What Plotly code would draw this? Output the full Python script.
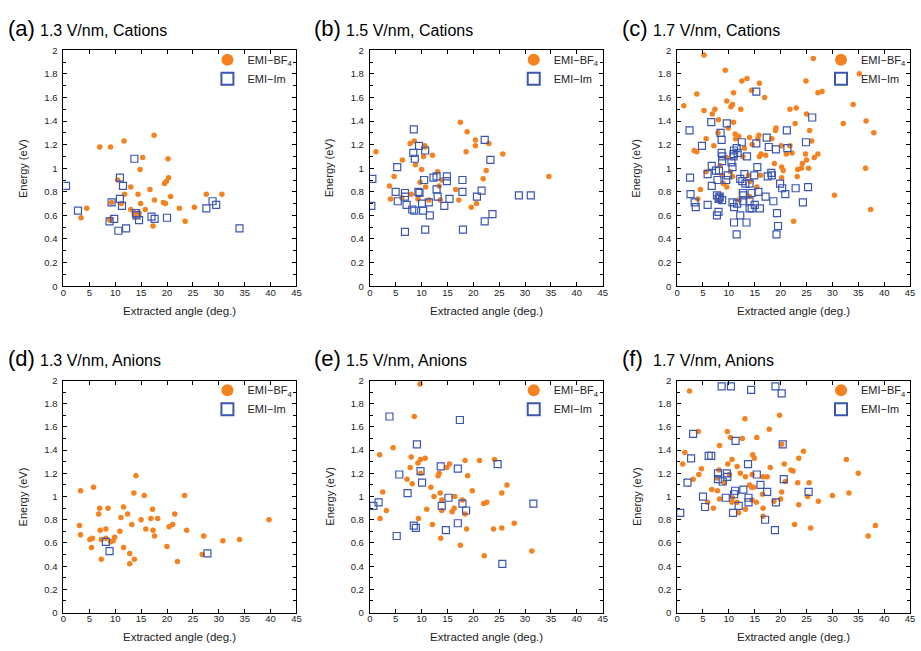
import plotly.graph_objects as go

# ---------------- data: extracted angle (deg.) and energy (eV) ----------------
# 1.3 V/nm, cations
c13_bf4_angle = [7.0, 9.1, 11.7, 17.5, 15.3, 20.2, 14.8, 20.3, 19.9, 19.5, 10.5, 13.0, 16.7, 11.8,
                 14.4, 20.7, 27.6, 30.6, 17.6, 9.3, 11.2, 14.9, 19.3, 19.7, 4.5, 13.0, 15.8, 22.4,
                 25.3, 3.4, 9.1, 8.9, 13.7, 14.2, 14.5, 13.9, 14.6, 17.3, 23.5]
c13_bf4_energy = [1.18, 1.18, 1.23, 1.28, 1.09, 1.08, 0.99, 0.92, 0.89, 0.87, 0.90, 0.84, 0.82, 0.78,
                  0.78, 0.76, 0.78, 0.78, 0.73, 0.71, 0.70, 0.70, 0.71, 0.70, 0.66, 0.65, 0.65, 0.66,
                  0.67, 0.58, 0.57, 0.56, 0.62, 0.60, 0.60, 0.59, 0.62, 0.51, 0.55]
c13_im_angle = [0.5, 2.8, 13.7, 10.9, 11.5, 10.9, 9.3, 11.3, 14.0, 14.1, 9.8, 8.9, 14.6, 17.0,
                17.6, 20.0, 10.6, 12.1, 27.6, 28.8, 29.5, 34.0]
c13_im_energy = [0.85, 0.64, 1.08, 0.92, 0.85, 0.74, 0.71, 0.68, 0.62, 0.60, 0.57, 0.55, 0.56, 0.59,
                 0.57, 0.58, 0.47, 0.49, 0.66, 0.72, 0.69, 0.49]

# 1.5 V/nm, cations
c15_bf4_angle = [1.2, 17.5, 18.8, 8.6, 7.8, 10.6, 20.4, 20.4, 23.0, 10.7, 10.4, 12.1, 6.3, 18.6,
                 25.7, 8.8, 10.0, 13.1, 22.5, 4.7, 21.9, 34.6, 13.9, 9.7, 13.4, 3.8, 10.8, 16.6,
                 8.0, 6.2, 9.3, 4.0, 11.4, 13.6, 17.2, 20.6, 19.6]
c15_bf4_energy = [1.14, 1.39, 1.31, 1.23, 1.21, 1.19, 1.24, 1.19, 1.21, 1.18, 1.10, 1.11, 1.07, 1.14,
                  1.12, 1.03, 0.99, 0.97, 0.98, 0.93, 0.91, 0.93, 0.90, 0.88, 0.85, 0.85, 0.84, 0.82,
                  0.78, 0.75, 0.74, 0.74, 0.73, 0.73, 0.73, 0.70, 0.67]
c15_im_angle = [8.5, 9.5, 10.7, 22.2, 8.7, 5.3, 23.3, 0.5, 8.4, 12.3, 12.9, 10.5, 14.9, 14.9,
                17.9, 12.9, 21.6, 5.0, 6.8, 9.4, 9.6, 17.9, 6.8, 13.1, 20.7, 28.8, 31.1, 5.4,
                11.4, 15.4, 10.1, 7.1, 0.3, 14.4, 8.2, 8.6, 10.3, 11.6, 23.7, 22.2, 6.8, 10.7, 18.0]
c15_im_energy = [1.33, 1.19, 1.15, 1.24, 1.08, 1.01, 1.07, 0.91, 1.13, 0.92, 0.93, 0.90, 0.93, 0.89,
                 0.90, 0.82, 0.81, 0.80, 0.79, 0.80, 0.79, 0.80, 0.76, 0.76, 0.76, 0.77, 0.77, 0.72,
                 0.71, 0.74, 0.70, 0.69, 0.68, 0.68, 0.65, 0.64, 0.64, 0.60, 0.61, 0.55, 0.46, 0.48, 0.48]

# 1.7 V/nm, cations
c17_bf4_angle = [5.2, 26.3, 9.3, 35.2, 12.5, 13.5, 24.9, 15.9, 14.4, 3.8, 10.9, 16.9, 27.2, 28.0,
                 1.3, 9.6, 10.7, 10.4, 5.2, 7.3, 12.3, 21.8, 23.0, 25.0, 34.0, 6.8, 36.5, 32.1,
                 22.8, 8.0, 10.9, 9.9, 19.1, 19.0, 25.6, 38.0, 7.9, 11.2, 11.9, 14.0, 15.8, 5.6,
                 15.6, 11.3, 18.3, 26.0, 21.8, 7.1, 13.0, 14.5, 20.1, 3.3, 3.8, 17.1, 15.9, 16.2,
                 21.1, 22.2, 24.8, 27.2, 26.5, 12.7, 9.5, 18.8, 25.0, 8.3, 20.2, 20.5, 23.3, 24.0,
                 24.2, 25.4, 36.4, 5.6, 13.8, 16.1, 8.7, 10.3, 10.7, 20.2, 23.2, 14.1, 8.9, 9.6,
                 15.4, 4.5, 4.0, 14.0, 30.4, 8.0, 11.9, 22.5, 37.4]
c17_bf4_energy = [1.96, 1.93, 1.83, 1.80, 1.74, 1.76, 1.74, 1.72, 1.66, 1.63, 1.64, 1.60, 1.64, 1.65,
                  1.53, 1.57, 1.54, 1.52, 1.49, 1.50, 1.50, 1.50, 1.51, 1.46, 1.54, 1.46, 1.40, 1.38,
                  1.38, 1.41, 1.39, 1.34, 1.34, 1.32, 1.32, 1.30, 1.30, 1.29, 1.27, 1.26, 1.28, 1.25,
                  1.25, 1.25, 1.25, 1.23, 1.19, 1.19, 1.17, 1.20, 1.19, 1.15, 1.14, 1.11, 1.10, 1.12,
                  1.12, 1.13, 1.12, 1.12, 1.09, 1.10, 1.09, 1.04, 1.07, 1.02, 1.01, 0.98, 0.99, 1.00,
                  1.04, 1.00, 1.00, 0.97, 0.94, 0.94, 0.94, 0.97, 0.93, 0.92, 0.93, 0.89, 0.87, 0.84,
                  0.84, 0.82, 0.74, 0.76, 0.77, 0.73, 0.73, 0.55, 0.65]
c17_im_angle = [15.3, 26.1, 6.6, 9.6, 2.4, 21.2, 8.4, 17.3, 8.6, 4.8, 12.5, 15.3, 24.9, 17.7,
                11.5, 11.0, 19.1, 21.3, 8.6, 10.9, 11.7, 10.9, 13.5, 8.7, 8.7, 10.5, 10.7, 6.7,
                7.5, 8.1, 5.9, 15.5, 9.8, 14.9, 17.5, 18.2, 18.3, 2.5, 9.5, 7.8, 12.2, 12.6,
                13.2, 14.0, 13.0, 19.9, 20.3, 22.9, 25.3, 6.7, 2.6, 15.7, 14.4, 12.7, 12.8, 20.9,
                17.1, 7.7, 8.2, 8.0, 8.7, 8.2, 3.4, 3.6, 5.9, 10.7, 12.8, 14.0, 18.6, 11.0,
                11.6, 15.0, 14.0, 14.4, 16.0, 24.3, 8.0, 7.7, 12.2, 19.3, 11.0, 13.4, 19.5, 11.5,
                19.2]
c17_im_energy = [1.65, 1.43, 1.39, 1.38, 1.32, 1.32, 1.30, 1.26, 1.24, 1.19, 1.22, 1.21, 1.22, 1.18,
                 1.17, 1.15, 1.16, 1.17, 1.13, 1.12, 1.13, 1.10, 1.10, 1.10, 1.06, 1.05, 1.01, 1.02,
                 0.98, 0.98, 0.95, 1.01, 0.94, 0.94, 0.93, 0.96, 0.94, 0.92, 0.90, 0.90, 0.91, 0.89,
                 0.87, 0.87, 0.95, 0.87, 0.83, 0.83, 0.84, 0.85, 0.78, 0.80, 0.79, 0.79, 0.77, 0.78,
                 0.76, 0.77, 0.76, 0.74, 0.73, 0.75, 0.71, 0.67, 0.69, 0.71, 0.72, 0.72, 0.72, 0.67,
                 0.70, 0.69, 0.66, 0.66, 0.66, 0.71, 0.63, 0.60, 0.60, 0.62, 0.54, 0.54, 0.51, 0.44,
                 0.44]

# 1.3 V/nm, anions
a13_bf4_angle = [3.3, 5.8, 14.0, 13.6, 15.6, 23.4, 7.0, 8.6, 11.6, 17.2, 6.8, 12.4, 21.5, 11.1,
                 15.0, 16.9, 18.2, 39.7, 13.2, 21.1, 20.4, 3.1, 8.2, 15.9, 17.3, 7.1, 10.9, 23.8,
                 3.3, 17.6, 27.1, 7.3, 8.2, 9.9, 5.1, 5.6, 30.8, 34.0, 9.1, 9.6, 20.0, 5.4,
                 11.6, 12.8, 26.8, 7.3, 13.7, 12.8, 22.0]
a13_bf4_energy = [1.05, 1.08, 1.18, 1.03, 1.01, 1.01, 0.90, 0.90, 0.91, 0.89, 0.85, 0.85, 0.85, 0.82,
                  0.80, 0.81, 0.81, 0.80, 0.76, 0.76, 0.74, 0.75, 0.72, 0.72, 0.71, 0.71, 0.70, 0.71,
                  0.67, 0.66, 0.66, 0.63, 0.64, 0.65, 0.63, 0.64, 0.62, 0.63, 0.61, 0.62, 0.57, 0.56,
                  0.56, 0.51, 0.50, 0.46, 0.46, 0.42, 0.44]
a13_im_angle = [8.2, 8.9, 27.8]
a13_im_energy = [0.61, 0.53, 0.51]

# 1.5 V/nm, anions
a15_bf4_angle = [9.7, 8.6, 4.5, 1.9, 8.0, 9.8, 10.7, 9.3, 18.4, 21.2, 24.1, 15.4, 7.8, 14.9,
                 13.4, 13.2, 9.8, 18.9, 7.2, 8.2, 26.5, 2.5, 11.8, 19.8, 13.6, 25.5, 12.4, 16.4,
                 13.9, 17.9, 22.0, 22.6, 3.2, 11.0, 13.9, 16.3, 15.9, 18.4, 2.0, 9.4, 12.1, 27.9,
                 18.7, 23.9, 25.5, 13.7, 17.5, 22.1, 31.3]
a15_bf4_energy = [1.97, 1.69, 1.42, 1.36, 1.34, 1.32, 1.33, 1.29, 1.31, 1.31, 1.32, 1.28, 1.25, 1.25,
                  1.20, 1.18, 1.20, 1.18, 1.15, 1.11, 1.10, 1.04, 1.08, 1.05, 1.03, 1.03, 1.00, 1.00,
                  0.97, 0.97, 0.94, 0.95, 0.88, 0.89, 0.88, 0.90, 0.87, 0.85, 0.81, 0.81, 0.76, 0.77,
                  0.72, 0.72, 0.73, 0.64, 0.58, 0.49, 0.53]
a15_im_angle = [3.8, 17.4, 9.1, 13.7, 17.0, 24.7, 9.8, 5.7, 10.1, 7.3, 15.2, 1.7, 0.7, 13.9,
                17.9, 31.6, 18.6, 8.5, 8.9, 17.0, 14.7, 5.2, 25.6]
a15_im_energy = [1.69, 1.66, 1.45, 1.26, 1.24, 1.28, 1.22, 1.19, 1.12, 1.03, 0.99, 0.95, 0.92, 0.92,
                 0.94, 0.94, 0.88, 0.75, 0.73, 0.77, 0.71, 0.66, 0.42]

# 1.7 V/nm, anions
a17_bf4_angle = [2.4, 19.8, 13.1, 17.8, 4.1, 9.7, 10.3, 12.6, 15.4, 8.2, 20.2, 1.5, 24.4, 14.6,
                 14.9, 10.6, 23.5, 32.7, 1.1, 9.8, 20.7, 11.6, 4.7, 18.0, 22.0, 22.4, 8.1, 4.2,
                 10.1, 12.2, 14.5, 16.6, 17.4, 35.0, 3.1, 7.7, 13.2, 9.1, 20.9, 25.5, 23.3, 14.0,
                 14.4, 14.8, 6.7, 7.8, 10.7, 33.2, 20.2, 16.5, 25.2, 30.0, 8.2, 20.0, 14.5, 15.3,
                 10.6, 11.6, 5.9, 18.7, 27.3, 23.5, 7.0, 13.2, 16.6, 11.9, 16.6, 22.7, 25.8, 38.3,
                 36.9]
a17_bf4_energy = [1.91, 1.70, 1.67, 1.58, 1.56, 1.56, 1.51, 1.50, 1.51, 1.44, 1.45, 1.38, 1.39, 1.36,
                  1.33, 1.32, 1.33, 1.32, 1.28, 1.28, 1.28, 1.26, 1.24, 1.25, 1.23, 1.22, 1.23, 1.19,
                  1.19, 1.20, 1.19, 1.17, 1.17, 1.20, 1.15, 1.16, 1.17, 1.12, 1.13, 1.12, 1.12, 1.10,
                  1.08, 1.08, 1.06, 1.05, 0.99, 1.03, 1.04, 1.02, 1.00, 1.01, 0.98, 0.98, 0.97, 0.95,
                  0.95, 0.95, 0.95, 0.96, 0.96, 0.93, 0.90, 0.89, 0.90, 0.86, 0.83, 0.76, 0.73, 0.75,
                  0.66]
a17_im_angle = [8.6, 10.4, 14.3, 19.0, 20.2, 3.1, 11.3, 20.4, 2.7, 6.1, 6.6, 13.7, 7.9, 9.6,
                9.7, 15.4, 2.0, 7.9, 8.8, 20.6, 16.1, 12.8, 11.2, 17.4, 25.4, 11.0, 13.8, 5.0,
                9.4, 19.1, 13.8, 5.4, 11.9, 10.8, 0.6, 17.0, 18.9]
a17_im_energy = [1.95, 1.95, 1.92, 1.95, 1.89, 1.54, 1.48, 1.45, 1.33, 1.35, 1.35, 1.28, 1.20, 1.20,
                 1.17, 1.19, 1.12, 1.15, 1.13, 1.15, 1.10, 1.06, 1.05, 1.04, 1.04, 1.02, 0.99, 1.00,
                 0.99, 0.95, 0.95, 0.91, 0.92, 0.86, 0.86, 0.80, 0.71]

panel_tags = ["(a)", "(b)", "(c)", "(d)", "(e)", "(f)"]
panel_titles = ["1.3 V/nm, Cations", "1.5 V/nm, Cations", "1.7 V/nm, Cations",
                "1.3 V/nm, Anions", "1.5 V/nm, Anions", "1.7 V/nm, Anions"]
series_names = ["EMI\u2212BF<sub>4</sub>", "EMI\u2212Im"]
panel_data = [
    (c13_bf4_angle, c13_bf4_energy, c13_im_angle, c13_im_energy),
    (c15_bf4_angle, c15_bf4_energy, c15_im_angle, c15_im_energy),
    (c17_bf4_angle, c17_bf4_energy, c17_im_angle, c17_im_energy),
    (a13_bf4_angle, a13_bf4_energy, a13_im_angle, a13_im_energy),
    (a15_bf4_angle, a15_bf4_energy, a15_im_angle, a15_im_energy),
    (a17_bf4_angle, a17_bf4_energy, a17_im_angle, a17_im_energy),
]
angle_ticks = [0, 5, 10, 15, 20, 25, 30, 35, 40, 45]
energy_ticks = [0, 0.2, 0.4, 0.6, 0.8, 1, 1.2, 1.4, 1.6, 1.8, 2]

# ---------------- styling / geometry ----------------
W, H = 921, 651
ORANGE = "#F5821F"
BLUE = "#3A56B0"
FONT = "Liberation Sans, Arial, sans-serif"
TEXT = "#222222"

col_left = [61, 370, 680]      # px, left edge of each plot column
plot_w = 235
row_top = [45, 381]            # px, top edge of each plot row
row_h = [240, 236]


def px_x(px):
    return px / W


def px_y(py):
    return 1 - py / H


fig = go.Figure()
annotations = []
layout = dict(
    width=W, height=H,
    margin=dict(l=0, r=0, t=0, b=0),
    paper_bgcolor="white", plot_bgcolor="white",
    font=dict(family=FONT, size=11, color=TEXT),
    showlegend=True,
)

for i in range(6):
    r, c = divmod(i, 3)
    n = "" if i == 0 else str(i + 1)
    xa, ya = "x" + n, "y" + n
    lg = "legend" + n
    left = col_left[c]
    top = row_top[r]
    bottom = top + row_h[r]
    bx, by, ix, iy = panel_data[i]

    fig.add_trace(go.Scatter(
        x=bx, y=by, mode="markers", name=series_names[0],
        xaxis=xa, yaxis=ya, legend=lg,
        marker=dict(symbol="circle", size=5.5, color=ORANGE, line=dict(width=0)),
    ))
    fig.add_trace(go.Scatter(
        x=ix, y=iy, mode="markers", name=series_names[1],
        xaxis=xa, yaxis=ya, legend=lg,
        marker=dict(symbol="square-open", size=7, color=BLUE, line=dict(width=1.2, color=BLUE)),
    ))

    common = dict(
        showline=True, linecolor="black", linewidth=1, mirror="ticks",
        ticks="inside", ticklen=4, tickcolor="black", tickwidth=1,
        showgrid=False, zeroline=False, fixedrange=True,
        tickfont=dict(family=FONT, size=9.5, color=TEXT),
    )
    layout["xaxis" + n] = dict(
        common, domain=[px_x(left), px_x(left + plot_w)], anchor=ya,
        range=[0, 45], tickvals=angle_ticks, ticktext=[str(t) for t in angle_ticks],
        ticklabelstandoff=-3,
    )
    layout["yaxis" + n] = dict(
        common, domain=[px_y(bottom), px_y(top)], anchor=xa,
        range=[0, 2], tickvals=energy_ticks, ticktext=[f"{t:g}" for t in energy_ticks],
        minor=dict(dtick=0.1, tick0=0, ticks="inside", ticklen=3, tickcolor="black"),
        ticklabelstandoff=3,
    )
    layout[lg] = dict(
        x=px_x(left + plot_w + 2), y=px_y(top - 5), xanchor="right", yanchor="top",
        bgcolor="rgba(0,0,0,0)", borderwidth=0,
        font=dict(family=FONT, size=11, color=TEXT),
        itemsizing="constant", tracegroupgap=0,
    )

    # panel tag and condition title
    annotations.append(dict(
        text=panel_tags[i], xref="paper", yref="paper",
        x=px_x(left - 58), y=px_y(top - 22), xanchor="left", yanchor="middle",
        showarrow=False, font=dict(family=FONT, size=22, color="black"),
    ))
    annotations.append(dict(
        text=panel_titles[i], xref="paper", yref="paper",
        x=px_x(left - 26), y=px_y(top - 20), xanchor="left", yanchor="middle",
        showarrow=False, font=dict(family=FONT, size=16, color="black"),
    ))
    # axis titles
    annotations.append(dict(
        text="Energy (eV)", xref="paper", yref="paper",
        x=px_x(left - 41), y=px_y(top + row_h[r] / 2), xanchor="center", yanchor="middle",
        textangle=-90, showarrow=False, font=dict(family=FONT, size=11, color=TEXT),
    ))
    annotations.append(dict(
        text="Extracted angle (deg.)", xref="paper", yref="paper",
        x=px_x(left + plot_w / 2), y=px_y(bottom + 25), xanchor="center", yanchor="middle",
        showarrow=False, font=dict(family=FONT, size=11.5, color=TEXT),
    ))

layout["annotations"] = annotations
fig.update_layout(**layout)
fig.write_html("out.html")
